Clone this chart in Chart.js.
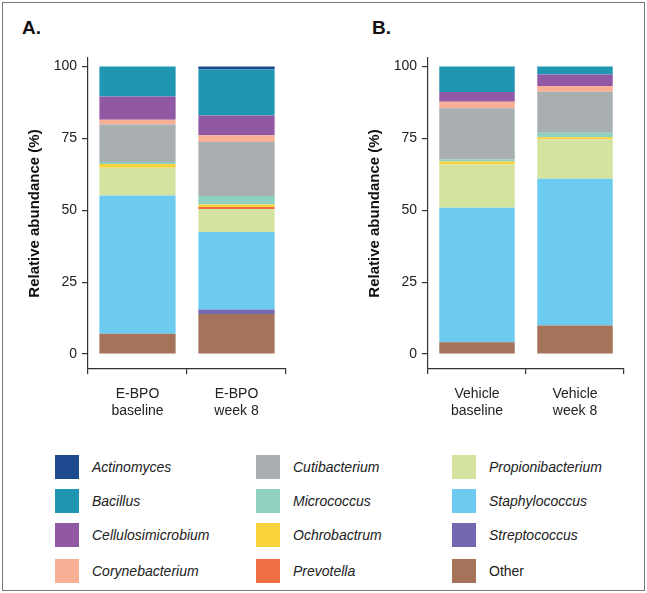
<!DOCTYPE html>
<html>
<head>
<meta charset="utf-8">
<script src="https://cdn.jsdelivr.net/npm/chart.js@4.4.0/dist/chart.umd.min.js"></script>
<style>
body { margin: 0; background: #fff; font-family: "Liberation Sans", Arial, sans-serif; }
#wrap { position: relative; width: 647px; height: 593px; overflow: hidden; }
#frame { position: absolute; left: 2px; top: 2px; width: 641px; height: 587px; border: 1px solid #777; }
.panel { position: absolute; font-weight: bold; font-size: 19px; color: #111; }
canvas { position: absolute; }
.sw { position: absolute; width: 24px; height: 24px; }
.lt { position: absolute; font-style: italic; font-size: 14px; color: #222; line-height: 24px; }
</style>
</head>
<body>
<div id="wrap">
  <div id="frame"></div>
  <div class="panel" style="left:22px;top:17px">A.</div>
  <div class="panel" style="left:372px;top:17px">B.</div>
  <canvas id="chartA" style="left:0;top:30px" width="310" height="390"></canvas>
  <canvas id="chartB" style="left:340px;top:30px" width="300" height="390"></canvas>
  <div id="legend"></div>
</div>
<script>
var groupsA = [["E-BPO", "baseline"], ["E-BPO", "week 8"]];
var groupsB = [["Vehicle", "baseline"], ["Vehicle", "week 8"]];
var yTicks = [0, 25, 50, 75, 100];

var genera = ["Actinomyces", "Bacillus", "Cellulosimicrobium", "Corynebacterium",
              "Cutibacterium", "Micrococcus", "Ochrobactrum", "Prevotella",
              "Propionibacterium", "Staphylococcus", "Streptococcus", "Other"];
var colors = ["#1d4a8f", "#2196b3", "#9159a4", "#f7af95",
              "#a9afb0", "#8ed1c0", "#f8d23a", "#ef6f44",
              "#d4e39f", "#6ecbf0", "#7268b0", "#a5735a"];

// % per sample: E-BPO baseline, E-BPO week 8, Vehicle baseline, Vehicle week 8
var actinomyces       = [0,    1.0,  0,    0];
var bacillus          = [10.4, 16.0, 8.8,  2.7];
var cellulosimicrobium= [8.1,  6.9,  3.4,  4.0];
var corynebacterium   = [1.6,  2.3,  2.3,  2.0];
var cutibacterium     = [13.1, 18.8, 17.8, 14.3];
var micrococcus       = [0.7,  3.0,  0.7,  1.6];
var ochrobactrum      = [1.3,  0.8,  1.0,  0.7];
var prevotella        = [0,    0.7,  0,    0];
var propionibacterium = [9.6,  8.0,  15.1, 13.7];
var staphylococcus    = [48.1, 27.0, 46.8, 51.1];
var streptococcus     = [0,    1.6,  0,    0];
var other             = [7.1,  13.9, 4.1,  9.9];

var values = [actinomyces, bacillus, cellulosimicrobium, corynebacterium,
              cutibacterium, micrococcus, ochrobactrum, prevotella,
              propionibacterium, staphylococcus, streptococcus, other];

var FONT = '"Liberation Sans", Arial, sans-serif';
var AXIS = '#333';

function makeChart(id, labels, from, padRight) {
    var datasets = [];
    // bottom of stack first: Other ... Actinomyces
    for (var i = genera.length - 1; i >= 0; i--) {
        datasets.push({
            label: genera[i],
            data: values[i].slice(from, from + 2),
            backgroundColor: colors[i],
            borderWidth: 0,
            barPercentage: 0.77,
            categoryPercentage: 1
        });
    }
    return new Chart(document.getElementById(id), {
        type: 'bar',
        data: { labels: labels, datasets: datasets },
        options: {
            responsive: false,
            animation: false,
            layout: { padding: { left: 22, right: padRight, top: 28, bottom: 0 } },
            plugins: { legend: { display: false }, tooltip: { enabled: false } },
            scales: {
                x: {
                    stacked: true,
                    offset: true,
                    grid: { drawOnChartArea: false, drawTicks: true, tickLength: 5, color: AXIS, lineWidth: 1.2 },
                    border: { display: true, color: AXIS, width: 1.2 },
                    ticks: { color: '#222', font: { family: FONT, size: 14 }, padding: 12, maxRotation: 0 },
                    afterFit: function (s) { s.height = 51; }
                },
                y: {
                    stacked: true,
                    min: -5.2,
                    max: 103,
                    afterBuildTicks: function (s) { s.ticks = yTicks.map(function (v) { return { value: v }; }); },
                    grid: { drawOnChartArea: false, drawTicks: true, tickLength: 6, color: AXIS, lineWidth: 1.2 },
                    border: { display: true, color: AXIS, width: 1.2 },
                    ticks: { color: '#222', font: { family: FONT, size: 14 }, padding: 5 },
                    title: {
                        display: true,
                        text: 'Relative abundance (%)',
                        color: '#111',
                        font: { family: FONT, size: 15, weight: 'bold' },
                        padding: { top: 4, bottom: 4 }
                    },
                    afterFit: function (s) { s.width = 66; }
                }
            }
        }
    });
}

makeChart('chartA', groupsA, 0, 24);
makeChart('chartB', groupsB, 2, 16);

// legend, column-major like the figure
var colX = [55, 256, 452];
var rowY = [455, 489, 523, 559];
var html = '';
for (var k = 0; k < genera.length; k++) {
    var c = Math.floor(k / 4), r = k % 4;
    html += '<div class="sw" style="left:' + colX[c] + 'px;top:' + rowY[r] + 'px;background:' + colors[k] + '"></div>';
    html += '<div class="lt" style="left:' + (colX[c] + 37) + 'px;top:' + rowY[r] + 'px;' +
            (genera[k] === 'Other' ? 'font-style:normal;' : '') + '">' + genera[k] + '</div>';
}
document.getElementById('legend').innerHTML = html;
</script>
</body>
</html>
